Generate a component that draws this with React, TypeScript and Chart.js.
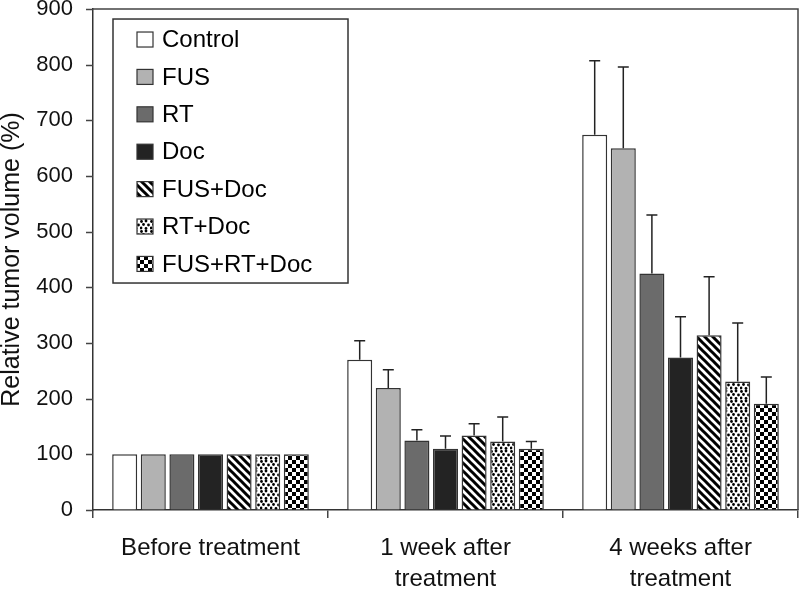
import { useEffect, useRef } from 'react';
import { Chart, registerables } from 'chart.js';
Chart.register(...registerables);

const categories = [['Before treatment'], ['1 week after', 'treatment'], ['4 weeks after', 'treatment']];
const seriesNames = ['Control', 'FUS', 'RT', 'Doc', 'FUS+Doc', 'RT+Doc', 'FUS+RT+Doc'];

const controlValues = [100, 270, 674];
const fusValues = [100, 219, 650];
const rtValues = [100, 125, 425];
const docValues = [100, 110, 274];
const fusDocValues = [100, 134, 314];
const rtDocValues = [100, 123, 231];
const fusRtDocValues = [100, 110, 191];

const controlErr = [0, 34, 133];
const fusErr = [0, 33, 146];
const rtErr = [0, 19, 105];
const docErr = [0, 23, 73];
const fusDocErr = [0, 21, 105];
const rtDocErr = [0, 44, 105];
const fusRtDocErr = [0, 13, 48];

const yMin = 0;
const yMax = 900;
const yStep = 100;

const FONT = "'Liberation Sans', Arial, sans-serif";

function makePattern(kind: string): CanvasPattern | string {
  const c = document.createElement('canvas');
  const g = c.getContext('2d')!;
  if (kind === 'stripes') {
    c.width = 8; c.height = 8;
    g.fillStyle = '#fff'; g.fillRect(0, 0, 8, 8);
    g.strokeStyle = '#000'; g.lineWidth = 3;
    g.beginPath();
    for (const off of [-8, 0, 8]) {
      g.moveTo(off - 4, -4); g.lineTo(off + 12, 12);
    }
    g.stroke();
  } else if (kind === 'dots') {
    c.width = 10; c.height = 10;
    g.fillStyle = '#fff'; g.fillRect(0, 0, 10, 10);
    g.fillStyle = '#000';
    const pts = [[1.5, 1.5], [6, 1], [3.5, 4.5], [8.5, 5], [1, 8], [6, 8.5]];
    for (const [px, py] of pts) {
      g.beginPath(); g.arc(px, py, 1.4, 0, Math.PI * 2); g.fill();
    }
  } else {
    c.width = 8; c.height = 8;
    g.fillStyle = '#fff'; g.fillRect(0, 0, 8, 8);
    g.fillStyle = '#000';
    g.fillRect(0, 0, 4, 4); g.fillRect(4, 4, 4, 4);
  }
  return g.createPattern(c, 'repeat') || '#000';
}

export default function App() {
  const ref = useRef<HTMLCanvasElement | null>(null);
  useEffect(() => {
    if (!ref.current) return;
    const fills: any[] = [
      '#ffffff', '#b2b2b2', '#6b6b6b', '#232323',
      makePattern('stripes'), makePattern('dots'), makePattern('checker'),
    ];
    const values = [controlValues, fusValues, rtValues, docValues, fusDocValues, rtDocValues, fusRtDocValues];
    const errors = [controlErr, fusErr, rtErr, docErr, fusDocErr, rtDocErr, fusRtDocErr];

    const errorBarPlugin = {
      id: 'errorBars',
      afterDatasetsDraw(chart: any) {
        const ctx = chart.ctx;
        const ys = chart.scales.y;
        chart.data.datasets.forEach((ds: any, i: number) => {
          const meta = chart.getDatasetMeta(i);
          meta.data.forEach((bar: any, j: number) => {
            const e = errors[i][j];
            if (!e) return;
            const top = ys.getPixelForValue(ds.data[j] + e);
            ctx.save();
            ctx.strokeStyle = '#222';
            ctx.lineWidth = 1.5;
            ctx.beginPath();
            ctx.moveTo(bar.x, bar.y);
            ctx.lineTo(bar.x, top);
            ctx.moveTo(bar.x - 5.5, top);
            ctx.lineTo(bar.x + 5.5, top);
            ctx.stroke();
            ctx.restore();
          });
        });
      },
    };

    const framePlugin = {
      id: 'frame',
      afterDraw(chart: any) {
        const { ctx, chartArea } = chart;
        const ys = chart.scales.y;
        ctx.save();
        ctx.strokeStyle = '#444';
        ctx.lineWidth = 1.5;
        ctx.beginPath();
        ctx.moveTo(chartArea.left, chartArea.top);
        ctx.lineTo(chartArea.right, chartArea.top);
        ctx.lineTo(chartArea.right, chartArea.bottom);
        ys.ticks.forEach((t: any) => {
          const py = Math.round(ys.getPixelForValue(t.value)) + 0.5;
          ctx.moveTo(chartArea.left - 7, py);
          ctx.lineTo(chartArea.left, py);
        });
        ctx.stroke();
        ctx.restore();
      },
    };

    const legendPlugin = {
      id: 'boxLegend',
      afterDraw(chart: any) {
        const { ctx, chartArea } = chart;
        const x0 = chartArea.left + 20;
        const y0 = chartArea.top + 10;
        const w = 235;
        const h = 264;
        ctx.save();
        ctx.fillStyle = '#fff';
        ctx.fillRect(x0, y0, w, h);
        ctx.strokeStyle = '#333';
        ctx.lineWidth = 1.5;
        ctx.strokeRect(x0, y0, w, h);
        ctx.font = `24px ${FONT}`;
        ctx.textBaseline = 'middle';
        chart.data.datasets.forEach((ds: any, i: number) => {
          const cy = y0 + 20.5 + i * 37.4;
          ctx.fillStyle = ds.backgroundColor;
          ctx.fillRect(x0 + 24, cy - 7.5, 16, 15);
          ctx.strokeStyle = '#333';
          ctx.lineWidth = 1.2;
          ctx.strokeRect(x0 + 24, cy - 7.5, 16, 15);
          ctx.fillStyle = '#000';
          ctx.fillText(ds.label, x0 + 49, cy + 1);
        });
        ctx.restore();
      },
    };

    const chart = new Chart(ref.current, {
      type: 'bar',
      data: {
        labels: categories,
        datasets: seriesNames.map((name, i) => ({
          label: name,
          data: values[i],
          backgroundColor: fills[i],
          borderColor: '#333',
          borderWidth: 1.5,
          categoryPercentage: 0.852,
          barPercentage: 0.875,
        })),
      },
      options: {
        responsive: false,
        animation: false,
        devicePixelRatio: 1,
        layout: { padding: { top: 0, right: 2, left: 0, bottom: 0 } },
        plugins: {
          legend: { display: false },
          tooltip: { enabled: false },
        },
        scales: {
          x: {
            afterFit: (s: any) => { s.height = 81; },
            grid: { offset: true, drawOnChartArea: false, drawTicks: true, tickLength: 8, color: '#444', lineWidth: 1.5 },
            border: { color: '#333', width: 1.5 },
            ticks: { color: '#111', font: { family: FONT, size: 24, lineHeight: 1.3 }, padding: 15, maxRotation: 0, autoSkip: false },
          },
          y: {
            min: yMin,
            max: yMax,
            afterFit: (s: any) => { s.width = 93; },
            grid: { drawOnChartArea: false, drawTicks: true, tickLength: 20, color: 'rgba(0,0,0,0)', tickColor: 'rgba(0,0,0,0)' },
            border: { color: '#333', width: 1.5 },
            ticks: { stepSize: yStep, color: '#111', font: { family: FONT, size: 22, lineHeight: 0.82 }, padding: 0 },
            title: {
              display: true,
              text: 'Relative tumor volume (%)',
              color: '#111',
              font: { family: FONT, size: 25, lineHeight: 1.0 },
              padding: { top: 0, bottom: 0 },
            },
          },
        },
      },
      plugins: [errorBarPlugin, framePlugin, legendPlugin],
    });
    return () => chart.destroy();
  }, []);

  return (
    <div style={{ position: 'fixed', left: 0, top: 0, width: 800, height: 591, background: '#fff' }}>
      <canvas ref={ref} width={800} height={591} style={{ display: 'block', width: 800, height: 591 }} />
    </div>
  );
}
